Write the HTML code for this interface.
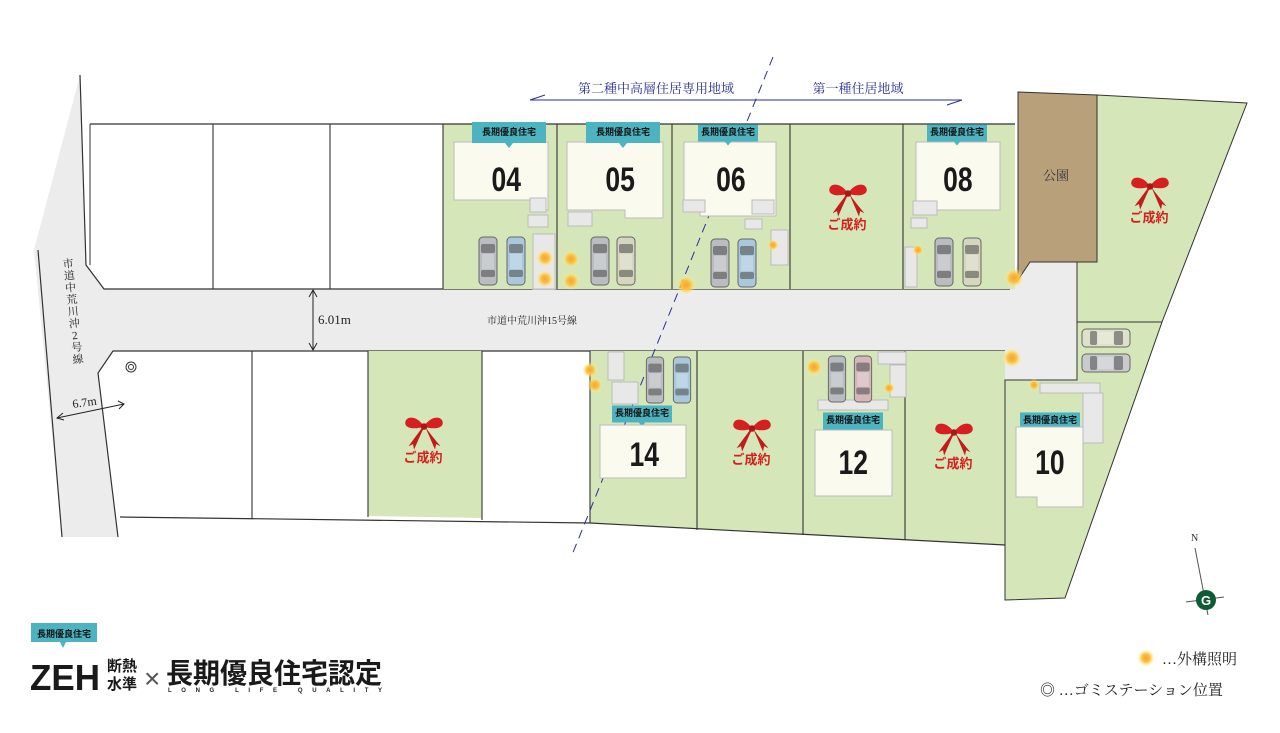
<!DOCTYPE html>
<html><head><meta charset="utf-8">
<style>
html,body{margin:0;padding:0;background:#fff;}
svg{display:block;}
.j{font-family:"Liberation Serif","Noto Serif CJK SC",serif;}
.g{font-family:"Liberation Sans","Noto Sans CJK JP",sans-serif;}
</style></head><body>
<svg width="1280" height="733" viewBox="0 0 1280 733" xmlns="http://www.w3.org/2000/svg">
<defs>
<radialGradient id="lt"><stop offset="0" stop-color="#f7a23a"/><stop offset="0.45" stop-color="#fbc13c"/><stop offset="1" stop-color="#fff59a" stop-opacity="0"/></radialGradient>
<symbol id="bow" viewBox="0 0 40 34">
<path d="M20 12 C14 2 4 2 3 8 C2 14 12 15 20 12Z M20 12 C26 2 36 2 37 8 C38 14 28 15 20 12Z" fill="#d6201f"/>
<path d="M19 12 C15 18 10 24 6 30 L10 28 L11 33 C14 26 17 19 20 13Z M21 12 C24 19 27 26 30 33 L31 28 L35 30 C30 24 25 18 21 12Z" fill="#c41a1a"/>
<circle cx="20" cy="12" r="3" fill="#b01515"/>
</symbol>
<symbol id="car" viewBox="0 0 20 50">
<rect x="1" y="1" width="18" height="48" rx="4" fill="currentColor" stroke="#666" stroke-width="1"/>
<rect x="3" y="8" width="14" height="9" rx="2" fill="#555" opacity=".6"/>
<rect x="3" y="34" width="14" height="7" rx="2" fill="#555" opacity=".6"/>
<rect x="4" y="18" width="12" height="15" fill="#fff" opacity=".25"/>
</symbol>
<symbol id="lbl" viewBox="0 0 74 26">
<rect x="0" y="0" width="74" height="21" fill="#4cb4c0"/>
<path d="M33 21 L37 26 L41 21Z" fill="#4cb4c0"/>
</symbol>
</defs>

<!-- west road -->
<polygon points="80,75 34,250 62,537 118,537 98,373 113,351 1005,351 1005,380 1030,380 1077,380 1077,262 1018,262 1010,289 104,289 86,265" fill="#ececec"/>
<polyline points="80,75 86,265 104,289 1010,289" fill="none" stroke="#333" stroke-width="1.2"/>
<line x1="38" y1="250" x2="62" y2="537" stroke="#333" stroke-width="1.2"/>
<polyline points="118,537 98,373 113,351 1005,351" fill="none" stroke="#333" stroke-width="1.2"/>

<!-- top lots -->
<polygon points="443,124 1015,124 1015,289 443,289" fill="#d5e7b9"/>
<polyline points="90,124 1015,124" fill="none" stroke="#333" stroke-width="1.2"/>
<line x1="90" y1="124" x2="90" y2="265" stroke="#333"/>
<g stroke="#333" stroke-width="1.1">
<line x1="213" y1="124" x2="213" y2="289"/><line x1="330" y1="124" x2="330" y2="289"/>
<line x1="443" y1="124" x2="443" y2="289"/><line x1="557" y1="124" x2="557" y2="289"/>
<line x1="672" y1="124" x2="672" y2="289"/><line x1="790" y1="124" x2="790" y2="289"/>
<line x1="903" y1="124" x2="903" y2="289"/>
</g>

<!-- bottom lots -->
<polygon points="368,351 482,351 482,518 368,516" fill="#d5e7b9"/>
<polygon points="590,351 1005,351 1005,545 590,523" fill="#d5e7b9"/>
<polyline points="120,517 590,523 1005,545" fill="none" stroke="#333" stroke-width="1.2"/>
<g stroke="#333" stroke-width="1.1">
<line x1="252" y1="351" x2="252" y2="519"/><line x1="368" y1="351" x2="368" y2="517"/>
<line x1="482" y1="351" x2="482" y2="520"/><line x1="590" y1="351" x2="590" y2="523"/>
<line x1="697" y1="351" x2="697" y2="530"/><line x1="803" y1="351" x2="803" y2="535"/>
<line x1="905" y1="351" x2="905" y2="540"/>
</g>

<!-- park -->
<polygon points="1018,92 1097,95 1097,262 1030,262 1018,280" fill="#b8a07a" stroke="#333"/>
<text x="1056" y="180" class="j" font-size="13" fill="#333" text-anchor="middle">公園</text>
<!-- east lots -->
<polygon points="1097,95 1247,103 1162,322 1077,322 1077,262 1097,262" fill="#d5e7b9" stroke="#333"/>
<polygon points="1077,322 1162,322 1065,598 1005,600 1005,380 1077,380" fill="#d5e7b9" stroke="#333"/>

<!-- zone line -->
<line x1="773" y1="57" x2="572" y2="555" stroke="#2a2f9a" stroke-width="1" stroke-dasharray="9,6"/>
<line x1="530" y1="100" x2="962" y2="100" stroke="#2a2f9a" stroke-width="1"/>
<line x1="530" y1="100" x2="545" y2="95" stroke="#2a2f9a"/>
<line x1="962" y1="100" x2="947" y2="105" stroke="#2a2f9a"/>
<text x="656" y="93" class="j" font-size="13" fill="#2a2f9a" text-anchor="middle">第二種中高層住居専用地域</text>
<text x="858" y="93" class="j" font-size="13" fill="#2a2f9a" text-anchor="middle">第一種住居地域</text>

<!-- houses top -->
<g fill="#fbfaef" stroke="#bbb" stroke-width="1">
<polygon points="454,142 548,142 548,210 530,210 530,200 454,200"/>
<polygon points="567,152 567,142 663,142 663,218 625,218 625,210 567,210"/>
<polygon points="684,150 684,142 776,142 776,216 700,216 700,205 684,205"/>
<polygon points="916,148 916,142 1000,142 1000,210 940,210 916,210"/>
</g>
<g fill="#e8e8e8" stroke="#bbb">
<rect x="530" y="198" width="16" height="14"/><rect x="528" y="215" width="20" height="12"/>
<rect x="568" y="212" width="24" height="14"/><rect x="683" y="200" width="22" height="12"/>
<rect x="752" y="200" width="22" height="14"/><rect x="913" y="201" width="24" height="14"/>
<rect x="911" y="218" width="16" height="10"/><rect x="745" y="219" width="17" height="10"/>
<rect x="771" y="230" width="17" height="35"/><rect x="905" y="247" width="12" height="40"/>
<rect x="533" y="234" width="22" height="55"/>
</g>
<!-- labels -->
<g class="g" font-weight="bold" font-size="9" fill="#111" text-anchor="middle">
<use href="#lbl" x="472" y="122" width="74" height="26"/><text x="509" y="135">長期優良住宅</text>
<use href="#lbl" x="586" y="122" width="74" height="26"/><text x="623" y="135">長期優良住宅</text>
<use href="#lbl" x="698" y="122" width="60" height="26"/><text x="728" y="135">長期優良住宅</text>
<use href="#lbl" x="927" y="122" width="60" height="26"/><text x="957" y="135">長期優良住宅</text>
<use href="#lbl" x="612" y="403" width="60" height="26"/><text x="642" y="416">長期優良住宅</text>
<use href="#lbl" x="823" y="410" width="60" height="26"/><text x="853" y="423">長期優良住宅</text>
<use href="#lbl" x="1020" y="410" width="60" height="26"/><text x="1050" y="423">長期優良住宅</text>
</g>
<!-- houses bottom -->
<g fill="#fbfaef" stroke="#bbb">
<rect x="600" y="425" width="86" height="53"/>
<rect x="815" y="430" width="77" height="66"/>
<polygon points="1016,427 1083,427 1083,507 1037,507 1037,497 1016,497"/>
</g>
<g fill="#e8e8e8" stroke="#bbb">
<rect x="608" y="352" width="16" height="28"/><rect x="612" y="382" width="26" height="22"/>
<rect x="878" y="352" width="28" height="12"/><rect x="890" y="365" width="16" height="32"/>
<rect x="818" y="400" width="70" height="10"/><rect x="1040" y="383" width="60" height="10"/>
<rect x="1083" y="393" width="20" height="50"/>
</g>
<!-- numbers -->
<g class="g" font-weight="bold" font-size="34" fill="#1a1a1a" text-anchor="middle" transform="scale(0.78,1)">
<text x="649" y="191">04</text><text x="795" y="191">05</text><text x="937" y="191">06</text>
<text x="1228" y="191">08</text><text x="826" y="466">14</text><text x="1094" y="474">12</text><text x="1346" y="474">10</text>
</g>

<!-- cars -->
<g style="color:#b9bcc0"><use href="#car" x="478" y="236" width="20" height="50"/><use href="#car" x="590" y="236" width="20" height="50"/><use href="#car" x="710" y="238" width="20" height="50"/><use href="#car" x="934" y="237" width="20" height="50"/><use href="#car" x="645" y="356" width="20" height="48"/><use href="#car" x="827" y="355" width="20" height="48"/></g>
<g style="color:#a9c8dc"><use href="#car" x="506" y="236" width="20" height="50"/><use href="#car" x="737" y="238" width="20" height="50"/><use href="#car" x="672" y="356" width="20" height="48"/></g>
<g style="color:#d4d6bd"><use href="#car" x="616" y="236" width="20" height="50"/><use href="#car" x="962" y="237" width="20" height="50"/></g>
<g style="color:#d4b7bb"><use href="#car" x="853" y="355" width="20" height="48"/></g>
<g transform="translate(1081,328) rotate(90) translate(0,-50)" style="color:#dfe2ca"><use href="#car" x="0" y="0" width="20" height="50"/></g>
<g transform="translate(1081,353) rotate(90) translate(0,-50)" style="color:#c8cacc"><use href="#car" x="0" y="0" width="20" height="50"/></g>

<!-- sold ribbons -->
<g class="g" font-weight="bold" font-size="13" fill="#d6201f" text-anchor="middle">
<use href="#bow" x="826" y="180" width="44" height="38"/><text x="847" y="229">ご成約</text>
<use href="#bow" x="1128" y="173" width="44" height="38"/><text x="1149" y="222">ご成約</text>
<use href="#bow" x="402" y="413" width="44" height="38"/><text x="423" y="462">ご成約</text>
<use href="#bow" x="730" y="415" width="44" height="38"/><text x="751" y="464">ご成約</text>
<use href="#bow" x="932" y="419" width="44" height="38"/><text x="953" y="468">ご成約</text>
</g>

<!-- lights -->
<g fill="url(#lt)">
<circle cx="545" cy="258" r="9"/><circle cx="571" cy="259" r="9"/><circle cx="545" cy="279" r="9"/><circle cx="571" cy="281" r="9"/>
<circle cx="686" cy="285" r="10"/><circle cx="773" cy="245" r="6"/><circle cx="918" cy="250" r="6"/>
<circle cx="1014" cy="278" r="10"/><circle cx="590" cy="370" r="8"/><circle cx="595" cy="385" r="8"/>
<circle cx="814" cy="367" r="9"/><circle cx="889" cy="388" r="6"/><circle cx="1012" cy="358" r="10"/>
<circle cx="1034" cy="385" r="6"/>
</g>

<!-- gomi station -->
<circle cx="131" cy="367" r="5" fill="#fff" stroke="#333"/><circle cx="131" cy="367" r="2.5" fill="none" stroke="#333"/>

<!-- dimension 6.01 -->
<line x1="313" y1="291" x2="313" y2="349" stroke="#222"/>
<path d="M309 297 L313 290 L317 297 M309 343 L313 350 L317 343" fill="none" stroke="#222"/>
<text x="318" y="324" class="j" font-size="13" fill="#222">6.01m</text>
<text x="532" y="324" class="j" font-size="10" fill="#222" text-anchor="middle">市道中荒川沖15号線</text>
<!-- 6.7m -->
<line x1="57" y1="418" x2="124" y2="404" stroke="#222"/>
<path d="M63 413 L57 418 L64 420 M118 401 L124 404 L119 409" fill="none" stroke="#222"/>
<text x="73" y="408" class="j" font-size="12" fill="#222" transform="rotate(-8 73 408)">6.7m</text>
<text class="j" font-size="11" fill="#222" transform="translate(63,268) rotate(-6)"><tspan x="0" dy="0">市</tspan><tspan x="0" dy="12">道</tspan><tspan x="0" dy="12">中</tspan><tspan x="0" dy="12">荒</tspan><tspan x="0" dy="12">川</tspan><tspan x="0" dy="12">沖</tspan><tspan x="2" dy="12">2</tspan><tspan x="0" dy="12">号</tspan><tspan x="0" dy="12">線</tspan></text>

<!-- compass -->
<text x="1191" y="541" class="j" font-size="10" fill="#333">N</text>
<line x1="1195" y1="548" x2="1208" y2="615" stroke="#555"/>
<line x1="1186" y1="602" x2="1224" y2="597" stroke="#555"/>
<circle cx="1206" cy="600" r="10" fill="#0f5b35"/>
<text x="1206" y="605" class="g" font-weight="bold" font-size="13" fill="#fff" text-anchor="middle">G</text>

<!-- legend -->
<circle cx="1146" cy="658" r="9" fill="url(#lt)"/>
<text x="1162" y="664" class="j" font-size="15" fill="#222">…外構照明</text>
<text x="1040" y="695" class="j" font-size="15" fill="#222">◎ …ゴミステーション位置</text>

<!-- logo -->
<rect x="31" y="623" width="66" height="19" fill="#4cb4c0"/>
<path d="M60 642 L63 648 L66 642Z" fill="#4cb4c0"/>
<text x="64" y="637" class="g" font-weight="bold" font-size="9" fill="#111" text-anchor="middle">長期優良住宅</text>
<text x="30" y="690" class="g" font-weight="bold" font-size="36" fill="#1a1a1a" textLength="70" lengthAdjust="spacingAndGlyphs">ZEH</text>
<text x="107" y="671" class="g" font-weight="bold" font-size="15" fill="#1a1a1a">断熱</text>
<text x="107" y="689" class="g" font-weight="bold" font-size="15" fill="#1a1a1a">水準</text>
<text x="144" y="688" class="g" font-size="28" fill="#555">×</text>
<text x="166" y="683" class="g" font-weight="bold" font-size="28" fill="#1a1a1a" textLength="216" lengthAdjust="spacingAndGlyphs">長期優良住宅認定</text>
<text x="168" y="692" class="g" font-weight="bold" font-size="6" fill="#222" textLength="214" lengthAdjust="spacing">LONG LIFE QUALITY</text>
</svg>
</body></html>
